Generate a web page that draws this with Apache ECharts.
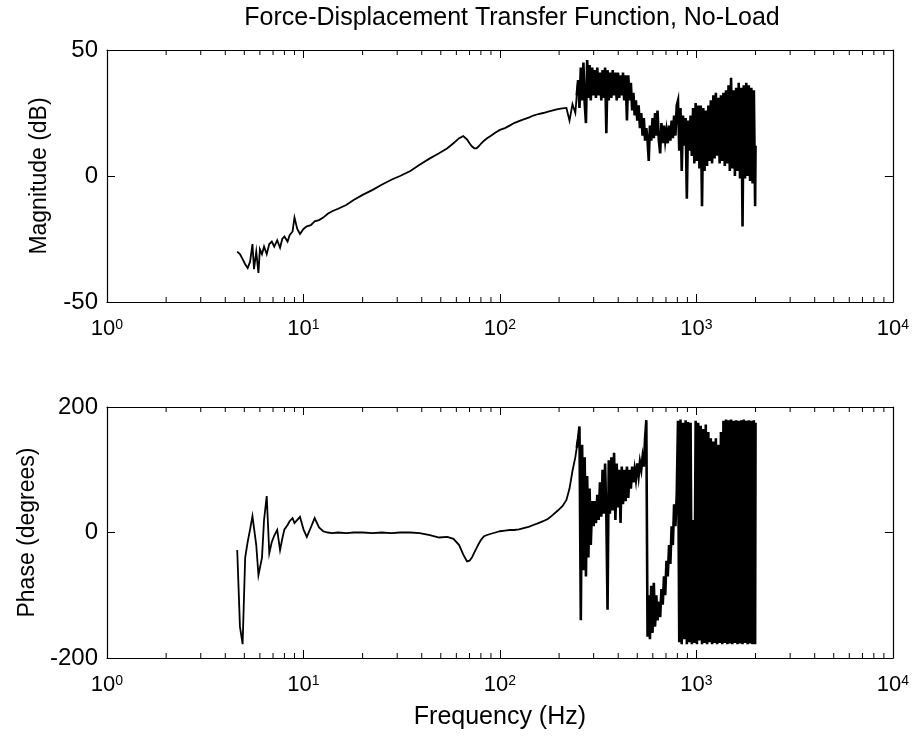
<!DOCTYPE html>
<html><head><meta charset="utf-8">
<script src="https://cdn.jsdelivr.net/npm/echarts@6/dist/echarts.min.js"></script>
<style>html,body{margin:0;padding:0;background:#fff}#c{width:912px;height:738px}</style>
</head><body><div id="c"></div>
<script>
// Measured frequencies (Hz)
const freq = [
  4.6, 4.75, 4.9, 5.05, 5.2, 5.35, 5.5, 5.6, 5.75, 5.9,
  6.0, 6.15, 6.3, 6.5, 6.7, 6.9, 7.1, 7.35, 7.6, 7.8,
  8.0, 8.3, 8.5, 8.8, 9.0, 9.3, 9.6, 10, 10.4, 10.9,
  11.4, 12, 12.6, 13.3, 14, 15, 16.5, 18, 20, 22.5,
  25, 28, 31, 35, 39, 44, 49, 54, 58, 62,
  65, 68, 70, 72, 74, 76, 78, 80, 83, 86,
  90, 95, 100, 106, 112, 118, 125, 132, 140, 148,
  157, 166, 176, 186, 197, 208, 218, 226, 234, 242,
  246,
  250, 254, 258, 262, 266, 270, 274, 278, 282, 286, 290, 295, 300,
  304, 308, 313, 318, 323, 328, 333, 338, 343, 348, 353, 358, 363, 369,
  375, 381, 387, 393, 399, 405, 411, 417, 423, 429, 436, 443, 450, 457,
  464, 471, 478, 485, 492, 500, 508, 516, 524, 532, 540, 548, 556,
  564, 572, 580, 589, 598, 607, 616, 625, 634, 644, 654, 664,
  674, 684, 694, 704, 715, 726, 737, 748, 759, 770, 782, 794,
  806, 818, 830, 842, 855, 868, 881, 894, 907, 920,
  934, 948, 962, 976, 991, 1006, 1021, 1036, 1052, 1068,
  1084, 1100, 1116, 1133, 1150, 1167, 1184, 1202, 1220, 1238,
  1256, 1275, 1294, 1313, 1333, 1353, 1373, 1394, 1415, 1436,
  1457, 1479, 1501, 1524, 1547, 1570, 1594, 1618, 1642, 1667,
  1692, 1717, 1742, 1768, 1794, 1821, 1848, 1876, 1904, 1932,
  1961, 1990, 2000
];
// Magnitude (dB)
const magnitude = [
  -30, -31, -33, -35, -36.5, -34, -27, -37, -30, -38.5,
  -29, -31, -28, -31, -27, -26, -28, -25.5, -28.5, -25,
  -24, -26, -23.5, -22, -16.5, -21, -23, -21, -20, -19.5,
  -18, -17.5, -16.5, -15, -14, -13, -11.5, -9.5, -7.5, -5.5,
  -3.5, -1.5, 0, 2, 4.5, 7, 9, 11, 13, 15,
  15.8, 14.5, 13, 11.8, 11, 11, 11.8, 12.8, 14, 15,
  16, 17.3, 18.3, 19, 20, 21, 21.8, 22.5, 23.2, 24,
  24.6, 25, 25.5, 26, 26.5, 26.8, 27, 22, 28.5, 25,
  32,
  38, 27, 43, 30, 45, 29, 21, 46, 31, 44, 30, 43, 32,
  42, 31, 43, 32, 41, 30, 42, 31, 43, 17, 42, 30, 41, 31,
  42, 32, 41, 30, 41, 31, 40, 32, 41, 30, 40, 22, 40, 30,
  37, 26, 33, 24, 30, 22, 28, 19, 25, 16, 23, 14, 19,
  14, 6, 20, 14, 23, 15, 25, 16, 26, 14, 9, 21,
  13, 20, 14, 18, 13, 20, 14, 22, 15, 24, 16, 28,
  30, 10, 27, 2, 24, 12, 23, -9, 22, 10,
  24, 8, 27, 5, 29, 6, 28, 3, 28, -12,
  27, 2, 26, 4, 28, 6, 30, 5, 32, 7,
  33, 8, 31, 5, 32, 6, 33, 4, 34, 5,
  36, 2, 39, 3, 34, 0, 35, 2, 37, -1,
  35, -20, 36, -1, 37, 0, 36, -2, 35, -3,
  34, -12, 12
];
// Phase (degrees)
const phase = [
  -28, -150, -178, -40, -15, 5, 26, 28, -20, -68,
  -70, -40, 20, 58, -33, -15, -5, 4, -28, -10,
  5, 12, 18, 23, 15, 20, 25, 5, -7, 8,
  23, 8, 2, 0, -1, 0, -1, 0, 0, -1,
  0, -1, 0, 0, -1, -4, -8, -7, -10, -20,
  -35, -46, -45, -40, -32, -25, -18, -12, -6, -4,
  -2, 0, 2, 3, 4, 4, 5, 7, 9, 12,
  15, 18, 22, 28, 35, 42, 52, 70, 98, 120,
  135,
  150, 169, -140, 140, -60, 120, -70, 90, -40, 70, -20, 50, 10,
  50, 15, 60, 20, 80, 25, 100, 30, 110, 25, -123, 115, 30, 120,
  35, 127, 20, 110, 40, 100, 15, 105, 45, 100, 50, 105, 55, 100,
  70, 105, 80, 100, 85, 110, 90, 112, 100, 120, 105, 150, 179,
  -166, -100, -170, -85, -160, -80, -150, -100, -140, -110, -135, -90,
  -115, -70, -100, -45, -70, -20, -50, 10, -20, 45, 10, 60,
  178, -175, 180, -178, 175, -170, 179, -178, 176, -175,
  175, -178, 20, -176, 178, -178, 175, -172, 170, -178,
  165, -176, 172, -178, 160, -175, 150, -178, 145, -176,
  150, -178, 140, -176, 160, -178, 178, -176, 180, -178,
  179, -177, 180, -178, 178, -176, 179, -178, 178, -177,
  179, -178, 180, -176, 178, -178, 179, -177, 178, -178,
  179, -178, 175
];
const minorTickValues = [2,3,4,5,6,7,8,9,20,30,40,50,60,70,80,90,200,300,400,500,600,700,800,900,2000,3000,4000,5000,6000,7000,8000,9000];
const magRange = [-50, 50];
const phaseRange = [-200, 200];
const titleText = 'Force-Displacement Transfer Function, No-Load';
// index where the noisy, densely sampled part of the record begins (250 Hz)
const denseStart = 80;

const FONT = '"Liberation Sans", Arial, sans-serif';
const chart = echarts.init(document.getElementById('c'), null, {renderer: 'canvas'});

function xAx(gridIndex, position, labels, name) {
  return {
    type: 'log', logBase: 10, gridIndex, position, min: 1, max: 10000,
    axisLine: {show: true, onZero: false, lineStyle: {color: '#000', width: 1.2}},
    axisTick: {show: true, inside: true, length: 8, lineStyle: {color: '#000', width: 1}},
    splitLine: {show: false},
    axisLabel: {
      show: labels, margin: 16, color: '#000',
      formatter: v => '{b|10}{s|' + Math.round(Math.log10(v)) + '}',
      rich: {
        b: {fontSize: 22, fontFamily: FONT, color: '#000', verticalAlign: 'bottom'},
        s: {fontSize: 14, fontFamily: FONT, color: '#000', verticalAlign: 'top'}
      }
    },
    name: name || '', nameLocation: 'middle', nameGap: 47,
    nameTextStyle: {fontSize: 25, fontFamily: FONT, color: '#000'}
  };
}
function yAx(gridIndex, position, labels, range, interval, name, gap) {
  return {
    type: 'value', gridIndex, position, min: range[0], max: range[1], interval,
    axisLine: {show: true, onZero: false, lineStyle: {color: '#000', width: 1.2}},
    axisTick: {show: true, inside: true, length: 8, lineStyle: {color: '#000', width: 1}},
    splitLine: {show: false},
    axisLabel: {show: labels, margin: 9, fontSize: 24, fontFamily: FONT, color: '#000'},
    name: name || '', nameLocation: 'middle', nameGap: gap || 0, nameRotate: 90,
    nameTextStyle: {fontSize: 23, fontFamily: FONT, color: '#000'}
  };
}
function minorTicks(xi, yi, range) {
  return {
    type: 'custom', xAxisIndex: xi, yAxisIndex: yi, silent: true, clip: false,
    data: minorTickValues.map(v => [v, range[0]]),
    renderItem: (params, api) => {
      const v = api.value(0);
      const b = api.coord([v, range[0]]);
      const t = api.coord([v, range[1]]);
      const st = {stroke: '#000', lineWidth: 1};
      return {type: 'group', children: [
        {type: 'line', shape: {x1: b[0], y1: b[1], x2: b[0], y2: b[1] - 5}, style: st},
        {type: 'line', shape: {x1: t[0], y1: t[1], x2: t[0], y2: t[1] + 5}, style: st}
      ]};
    }
  };
}

const magData = freq.map((f, i) => [f, magnitude[i]]);
const phaseData = freq.map((f, i) => [f, phase[i]]);
function lineSeries(xi, yi, data, width) {
  return {type: 'line', xAxisIndex: xi, yAxisIndex: yi, data, showSymbol: false, symbol: 'none',
    lineStyle: {color: '#000', width, join: 'miter'}, sampling: null, silent: true};
}

chart.setOption({
  animation: false,
  backgroundColor: '#fff',
  title: {text: titleText, left: 507, top: 1, textAlign: 'center',
    textStyle: {fontSize: 25, fontWeight: 'normal', fontFamily: FONT, color: '#000'}},
  grid: [
    {left: 107, top: 50, width: 787, height: 252},
    {left: 107, top: 407, width: 787, height: 251}
  ],
  xAxis: [
    xAx(0, 'bottom', true),
    xAx(0, 'top', false),
    xAx(1, 'bottom', true, 'Frequency (Hz)'),
    xAx(1, 'top', false)
  ],
  yAxis: [
    yAx(0, 'left', true, magRange, 50, 'Magnitude (dB)', 56),
    yAx(0, 'right', false, magRange, 50),
    yAx(1, 'left', true, phaseRange, 200, 'Phase (degrees)', 67),
    yAx(1, 'right', false, phaseRange, 200)
  ],
  series: [
    lineSeries(0, 0, magData.slice(0, denseStart + 2), 1.8),
    lineSeries(0, 0, magData.slice(denseStart), 2.6),
    lineSeries(2, 2, phaseData.slice(0, denseStart + 2), 1.8),
    lineSeries(2, 2, phaseData.slice(denseStart), 2.6),
    minorTicks(0, 0, magRange),
    minorTicks(2, 2, phaseRange)
  ]
});
</script></body></html>
